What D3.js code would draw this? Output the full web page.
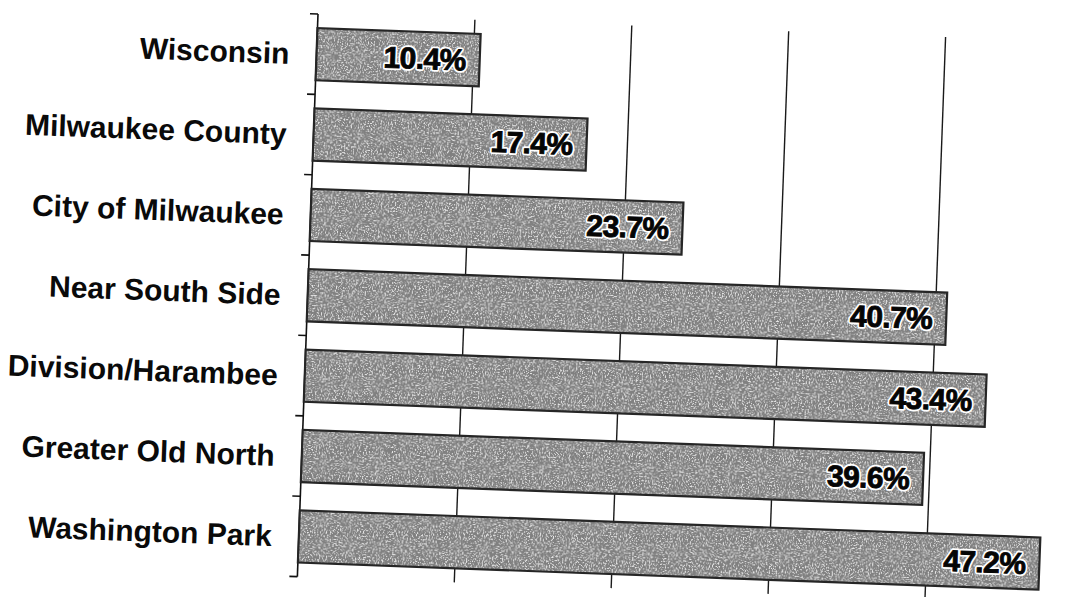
<!DOCTYPE html>
<html>
<head>
<meta charset="utf-8">
<script src="https://cdn.jsdelivr.net/npm/d3@7"></script>
<style>
  body { margin: 0; background: #fff; }
  svg { display: block; font-family: 'Liberation Sans', Arial, Helvetica, sans-serif; }
</style>
</head>
<body>
<script>
const categories = ['Wisconsin', 'Milwaukee County', 'City of Milwaukee', 'Near South Side', 'Division/Harambee', 'Greater Old North', 'Washington Park']
const values = [10.4, 17.4, 23.7, 40.7, 43.4, 39.6, 47.2]
const gridTicks = [10, 20, 30, 40]

const svg = d3.select('body').append('svg')

svg
.attr('width', 1076)
.attr('height', 597)

// scanned page sits slightly tilted
const origin = {x: 318, y: 14}
const tilt = 2.1

const width = 785
const height = 563

const x = d3.scaleLinear().domain([0, 50]).range([0, width])
const y = d3.scaleBand().domain(categories).range([0, height]).paddingInner(0.35).paddingOuter(0.175)

const data = categories.map((c, i) => ({label: c, value: values[i]}))

// speckled grey like the photocopy
const defs = svg.append('defs')
const grain = defs.append('filter')
.attr('id', 'grain')
.attr('x', 0).attr('y', 0).attr('width', '100%').attr('height', '100%')
grain.append('feTurbulence')
.attr('type', 'fractalNoise')
.attr('baseFrequency', 0.7)
.attr('numOctaves', 2)
.attr('seed', 3)
.attr('result', 'noise')
grain.append('feColorMatrix')
.attr('in', 'noise')
.attr('type', 'matrix')
.attr('values', '0 0 0 0 0.8  0 0 0 0 0.8  0 0 0 0 0.8  5 0 0 0 -2.6')
.attr('result', 'specks')
grain.append('feComposite')
.attr('in', 'specks')
.attr('in2', 'SourceGraphic')
.attr('operator', 'in')
.attr('result', 'clipped')
const merge = grain.append('feMerge')
merge.append('feMergeNode').attr('in', 'SourceGraphic')
merge.append('feMergeNode').attr('in', 'clipped')

const g = svg.append('g').attr('transform', `translate(${origin.x},${origin.y}) rotate(${tilt})`)

// vertical gridlines
g.selectAll('.grid')
    .data(gridTicks)
    .enter()
    .append('line')
  .attr('class', 'grid')
  .attr('x1', (d) => x(d))
  .attr('x2', (d) => x(d))
  .attr('y1', 0)
  .attr('y2', height)
  .attr('stroke', '#1a1a1a')
  .attr('stroke-width', 1.4)

// left axis with ticks between categories
g.append('line')
.attr('x1', 0).attr('x2', 0)
.attr('y1', 0).attr('y2', height)
.attr('stroke', '#111')
.attr('stroke-width', 1.6)

const bounds = categories.map((c) => y(c) - y.step() * y.paddingInner() / 2).concat([height])
g.selectAll('.ytick')
    .data(bounds)
    .enter()
    .append('line')
  .attr('class', 'ytick')
  .attr('x1', -8)
  .attr('x2', 0)
  .attr('y1', (d) => Math.max(0, d))
  .attr('y2', (d) => Math.max(0, d))
  .attr('stroke', '#111')
  .attr('stroke-width', 1.6)

g.selectAll('.bar')
    .data(data)
    .enter()
    .append('rect')
  .attr('class', 'bar')
  .attr('x', 0)
  .attr('y', (d) => y(d.label))
  .attr('width', (d) => x(d.value))
  .attr('height', y.bandwidth())
  .attr('fill', '#808080')
  .attr('filter', 'url(#grain)')

g.selectAll('.bar-edge')
    .data(data)
    .enter()
    .append('rect')
  .attr('class', 'bar-edge')
  .attr('x', 0)
  .attr('y', (d) => y(d.label))
  .attr('width', (d) => x(d.value))
  .attr('height', y.bandwidth())
  .attr('fill', 'none')
  .attr('stroke', '#262626')
  .attr('stroke-width', 2.2)

const valueLabel = (sel) => sel
  .attr('x', (d) => x(d.value) - 14)
  .attr('y', (d) => y(d.label) + y.bandwidth() / 2)
  .attr('dy', '0.36em')
  .attr('text-anchor', 'end')
  .attr('font-size', 30)
  .attr('font-weight', 'bold')
  .attr('letter-spacing', -0.6)
  .text((d) => d3.format('.1f')(d.value) + '%')

// white halo first, then heavy black figures
g.selectAll('.value-halo')
    .data(data)
    .enter()
    .append('text')
  .attr('class', 'value-halo')
  .call(valueLabel)
  .attr('fill', '#fff')
  .attr('stroke', '#fff')
  .attr('stroke-width', 4.5)
  .attr('stroke-linejoin', 'round')

g.selectAll('.value')
    .data(data)
    .enter()
    .append('text')
  .attr('class', 'value')
  .call(valueLabel)
  .attr('fill', '#050505')
  .attr('stroke', '#050505')
  .attr('stroke-width', 0.9)

g.selectAll('.cat')
    .data(data)
    .enter()
    .append('text')
  .attr('class', 'cat')
  .attr('x', -27)
  .attr('y', (d) => y(d.label) + y.bandwidth() / 2)
  .attr('dy', '0.36em')
  .attr('text-anchor', 'end')
  .attr('font-size', 30)
  .attr('font-weight', 'bold')
  .attr('fill', '#0a0a0a')
  .text((d) => d.label)
</script>
</body>
</html>
